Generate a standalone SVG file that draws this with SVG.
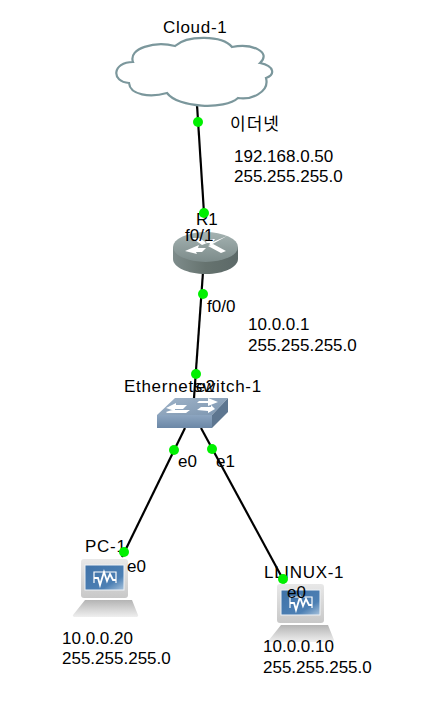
<svg xmlns="http://www.w3.org/2000/svg" width="435" height="702" viewBox="0 0 435 702">
<style>
text{font-family:"Liberation Sans","Noto Sans CJK KR",sans-serif;font-size:17px;fill:#000}
.wide{letter-spacing:.7px}
.link{stroke:#000;stroke-width:2.2;fill:none}
.dot{fill:#00f000}
</style>
<defs>
<linearGradient id="rt" x1="0" y1="0" x2="0" y2="1"><stop offset="0" stop-color="#a5b3b2"/><stop offset="1" stop-color="#7c8b8a"/></linearGradient>
<linearGradient id="rs" x1="0" y1="0" x2="1" y2="0"><stop offset="0" stop-color="#7e8c8b"/><stop offset=".5" stop-color="#66736f"/><stop offset="1" stop-color="#5c6968"/></linearGradient>
<linearGradient id="sf" x1="0" y1="0" x2="0" y2="1"><stop offset="0" stop-color="#8ca5c0"/><stop offset="1" stop-color="#6b87a6"/></linearGradient>
<linearGradient id="st" x1="0" y1="0" x2="1" y2="1"><stop offset="0" stop-color="#9fb3c8"/><stop offset="1" stop-color="#7d96b0"/></linearGradient>
<linearGradient id="mon" x1="0" y1="0" x2="0" y2="1"><stop offset="0" stop-color="#e8e8e8"/><stop offset="1" stop-color="#c8c8c8"/></linearGradient>
<linearGradient id="base" x1="0" y1="0" x2="0" y2="1"><stop offset="0" stop-color="#b4b4b4"/><stop offset=".6" stop-color="#d8d8d8"/><stop offset="1" stop-color="#efefef"/></linearGradient>
<linearGradient id="scr" x1="0" y1="0" x2="1" y2="1"><stop offset="0" stop-color="#3f72a8"/><stop offset=".7" stop-color="#4d80b4"/><stop offset="1" stop-color="#a9c3dc"/></linearGradient>
<g id="computer">
<path d="M12 41H59L65 56Q66 58 62 58H3Q-1 58 0 56Z" fill="url(#base)"/>
<rect x="8" y="0" width="47" height="39" rx="3" fill="url(#mon)"/>
<rect x="12" y="6" width="39" height="25" fill="url(#scr)" stroke="#eef2f6"/>
<path d="M21 24V13H43V24" fill="none" stroke="#fff" stroke-width="1.2"/>
<path d="M21 19H25L27 26L31 13L34 22L37 15L40 21H43" fill="none" stroke="#fff" stroke-width="1.8"/>
</g>
</defs>
<g id="connectors">
<path class="link" d="M197 105L204 213"/>
<path class="link" d="M203 272L194 398"/>
<path class="link" d="M185 428L122 557"/>
<path class="link" d="M201 428L285 583"/>
</g>
<g id="cloud">
<path d="M133 62C128 48 155 41 175 46C187 35 222 35 232 47C252 43 272 52 260 63C275 66 275 75 266 78C270 93 250 100 238 98C225 110 178 108 167 93C150 98 130 95 129 83C111 82 112 62 133 62Z" fill="#fff" stroke="#7b979c" stroke-width="2.2"/>
<text class="wide" x="163" y="33">Cloud-1</text>
</g>
<g id="router">
<path d="M173 247V259C173 267 187 274 206 274C224 274 238 267 238 259V247Z" fill="url(#rs)"/>
<ellipse cx="205.500" cy="247" rx="32.500" ry="15" fill="url(#rt)"/>
<path d="M185 251L199 245L198 248H206L202 252H196L197 254ZM227 236L213 242L215 239H208L205 243H210L209 246ZM208 246L213 244L226 251L221 253ZM192 238H199L207 243L202 245Z" fill="#fff"/>
<text x="196" y="225">R1</text>
<text x="185" y="241">f0/1</text>
</g>
<g id="switch">
<path d="M157 415L175 398H228L212 415Z" fill="url(#st)"/>
<rect x="157" y="415" width="55" height="13" fill="url(#sf)"/>
<path d="M212 415L228 398V412L212 428Z" fill="#5d7690"/>
<path d="M166 408L176 403V405H187L183 409H175V411ZM218 402L208 398V401H199L197 403H208V406ZM166 412L172 410H190L186 413H167ZM197 410L201 407H211V405L215 409L208 413V411Z" fill="#fff"/>
<text class="wide" x="124" y="392">Ethernetswitch-1</text>
<text x="196" y="392">e2</text>
</g>
<g id="pc1">
<use href="#computer" x="73" y="559"/>
<text class="wide" x="85" y="552">PC-1</text>
<text x="127" y="572">e0</text>
<text x="62" y="644">10.0.0.20</text>
<text x="62" y="664">255.255.255.0</text>
</g>
<g id="linux1">
<use href="#computer" x="269" y="584"/>
<text class="wide" x="264" y="578">LLINUX-1</text>
<text x="287" y="598">e0</text>
<text x="263" y="652">10.0.0.10</text>
<text x="263" y="673">255.255.255.0</text>
</g>
<g id="labels">
<text x="230" y="130" letter-spacing="1">이더넷</text>
<text x="234" y="162">192.168.0.50</text>
<text x="234" y="182">255.255.255.0</text>
<text x="207" y="312">f0/0</text>
<text x="248" y="330">10.0.0.1</text>
<text x="248" y="351">255.255.255.0</text>
<text x="178" y="467">e0</text>
<text x="216" y="467">e1</text>
</g>
<g id="dots">
<circle class="dot" cx="198" cy="122" r="5"/>
<circle class="dot" cx="204" cy="213" r="5"/>
<circle class="dot" cx="203" cy="294" r="5"/>
<circle class="dot" cx="196" cy="374" r="5"/>
<circle class="dot" cx="174" cy="450" r="5"/>
<circle class="dot" cx="212" cy="449" r="5"/>
<circle class="dot" cx="124" cy="552" r="5"/>
<circle class="dot" cx="283" cy="579" r="5"/>
</g>
</svg>
